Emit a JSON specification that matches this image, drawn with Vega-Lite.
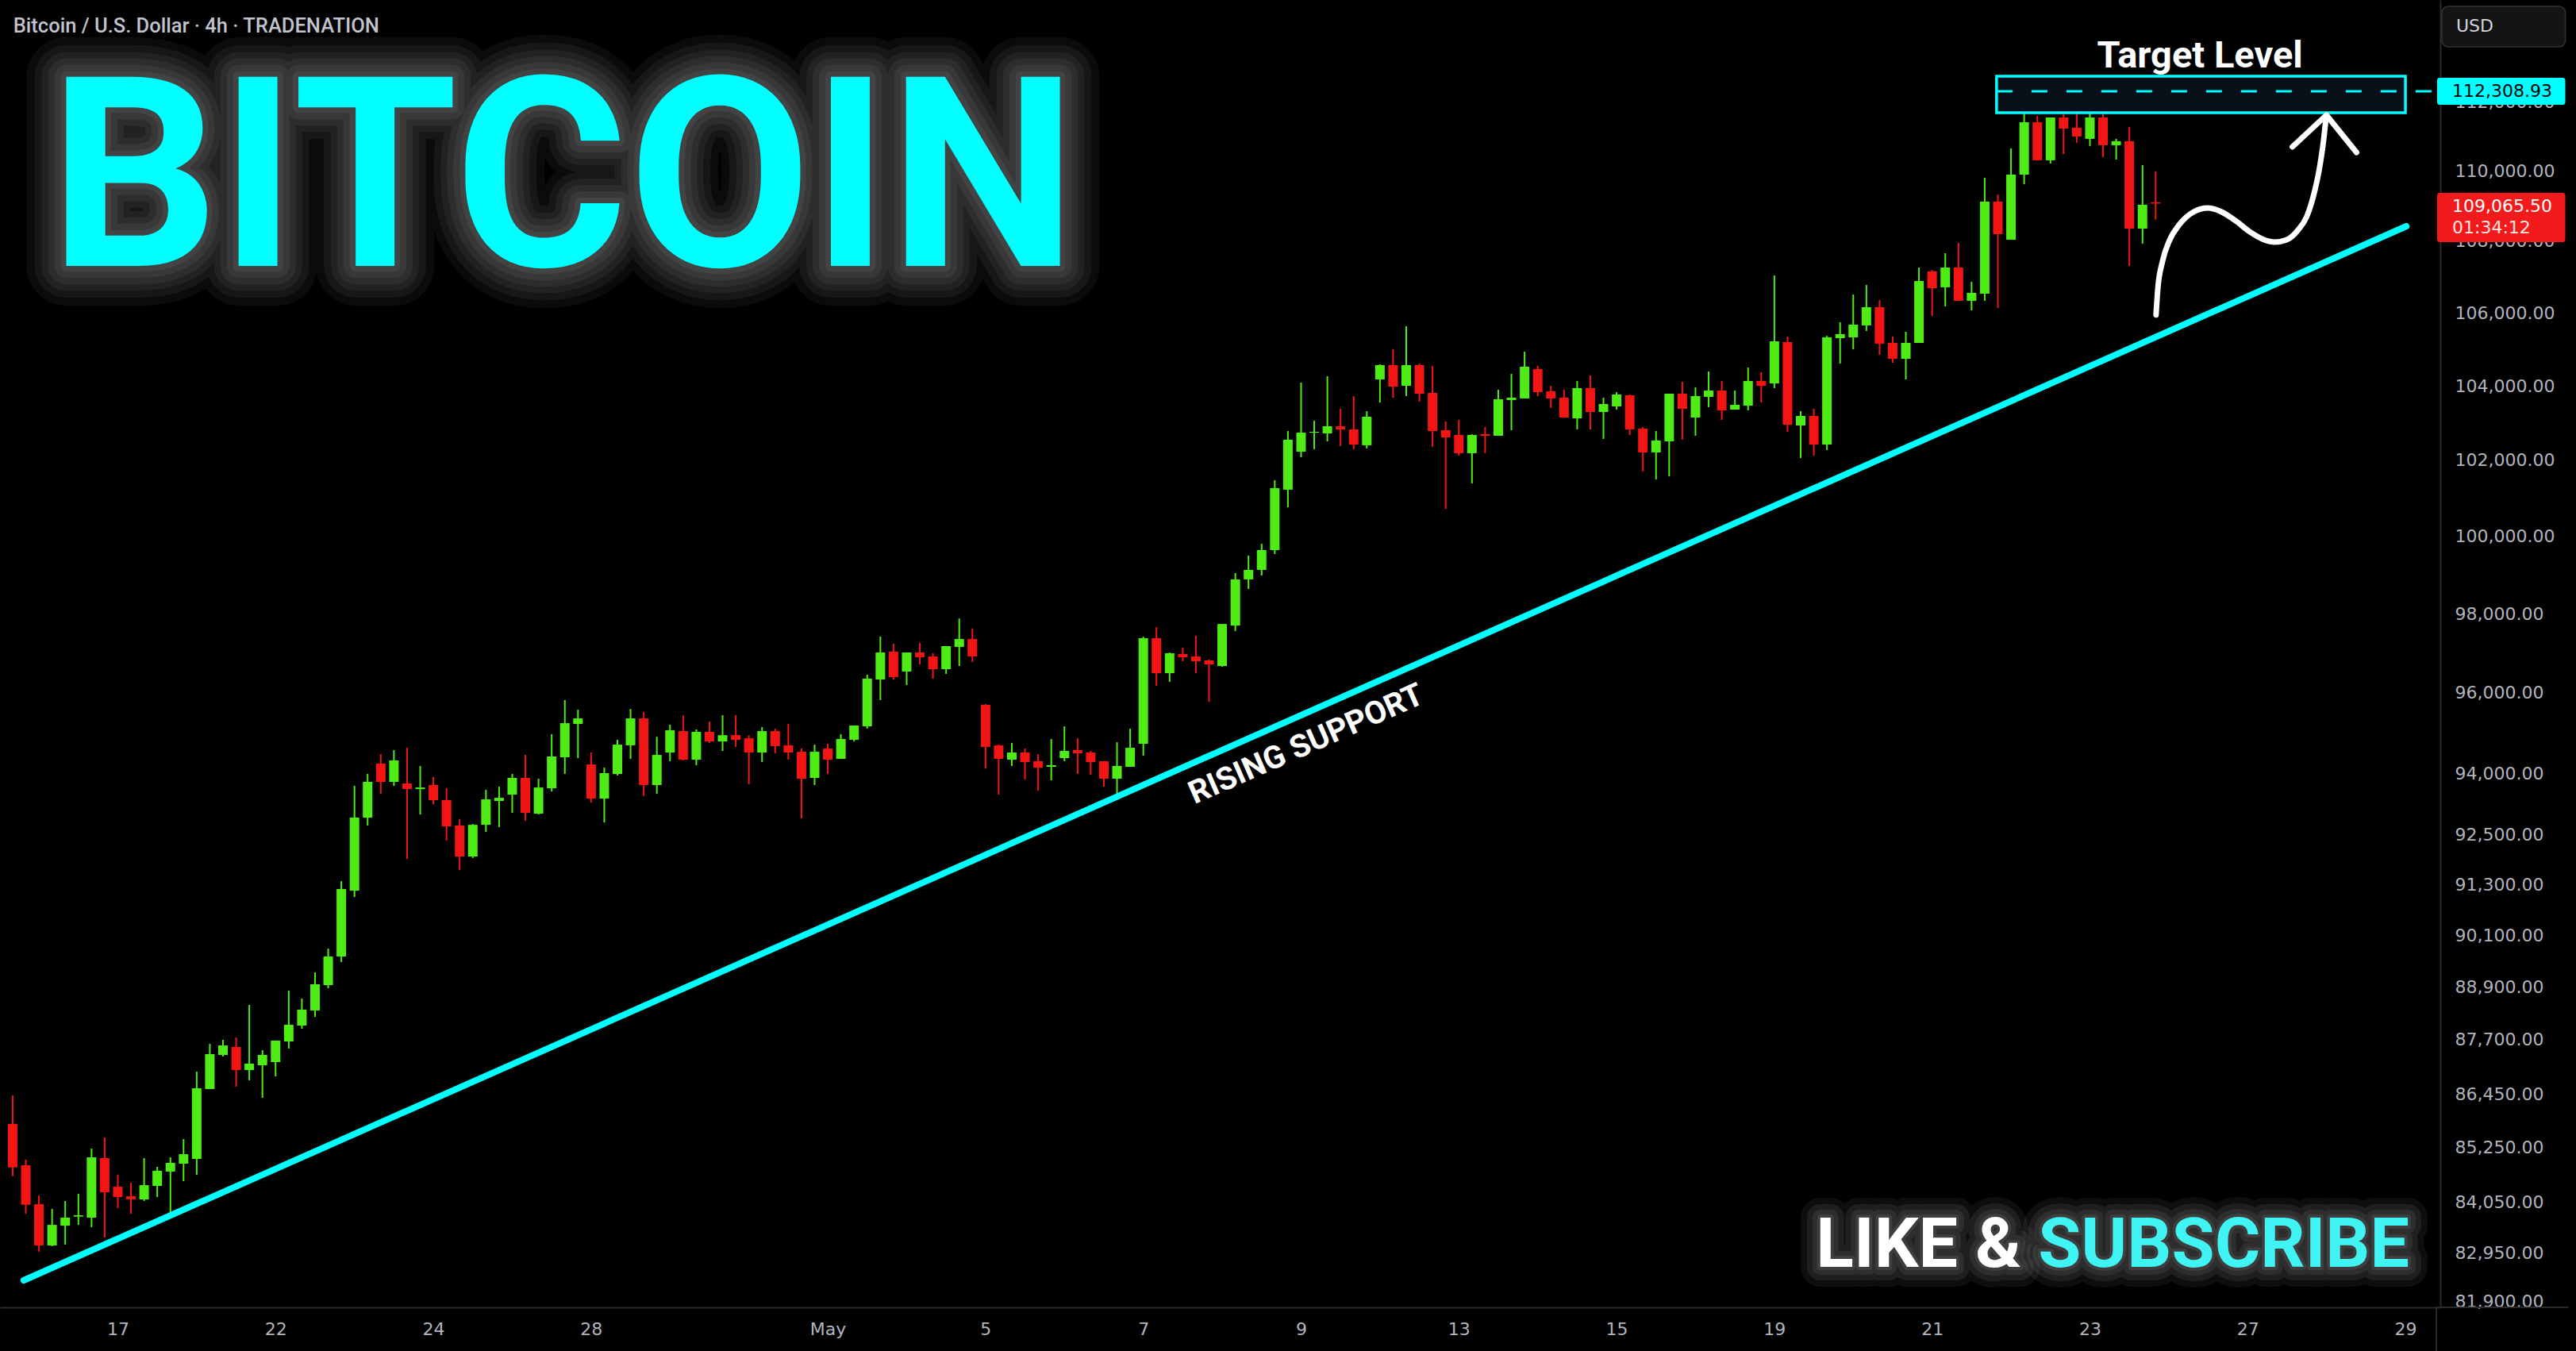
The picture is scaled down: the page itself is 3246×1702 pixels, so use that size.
{
  "$schema": "https://vega.github.io/schema/vega-lite/v6.json",
  "width": 3075,
  "height": 1647,
  "autosize": {"type": "none"},
  "padding": {"left": 0, "top": 0, "right": 171, "bottom": 55},
  "background": "#000000",
  "config": {"view": {"stroke": null}},
  "datasets": {
    "candles": [
      {"i":-8,"o":85781,"h":86423,"l":84622,"c":84815},
      {"i":-7,"o":84862,"h":84985,"l":83795,"c":83992},
      {"i":-6,"o":84004,"h":84196,"l":82972,"c":83104},
      {"i":-5,"o":83104,"h":83900,"l":83087,"c":83552},
      {"i":-4,"o":83535,"h":84074,"l":83121,"c":83709},
      {"i":-3,"o":83732,"h":84230,"l":83552,"c":83761},
      {"i":-2,"o":83709,"h":85232,"l":83500,"c":85037},
      {"i":-1,"o":85020,"h":85480,"l":83276,"c":84265},
      {"i":0,"o":84387,"h":84650,"l":83917,"c":84161},
      {"i":1,"o":84178,"h":84475,"l":83795,"c":84109},
      {"i":2,"o":84109,"h":85020,"l":84074,"c":84422},
      {"i":3,"o":84405,"h":84827,"l":84161,"c":84740},
      {"i":4,"o":84722,"h":85037,"l":83726,"c":84915},
      {"i":5,"o":84897,"h":85444,"l":84510,"c":85107},
      {"i":6,"o":85002,"h":86960,"l":84650,"c":86584},
      {"i":7,"o":86566,"h":87594,"l":86566,"c":87358},
      {"i":8,"o":87340,"h":87684,"l":87304,"c":87557},
      {"i":9,"o":87521,"h":87738,"l":86620,"c":86996},
      {"i":10,"o":86996,"h":88487,"l":86763,"c":87141},
      {"i":11,"o":87105,"h":87449,"l":86369,"c":87340},
      {"i":12,"o":87177,"h":87666,"l":86853,"c":87666},
      {"i":13,"o":87648,"h":88816,"l":87485,"c":88030},
      {"i":14,"o":88012,"h":88634,"l":87939,"c":88377},
      {"i":15,"o":88359,"h":89242,"l":88213,"c":88965},
      {"i":16,"o":88946,"h":89796,"l":88872,"c":89612},
      {"i":17,"o":89612,"h":91392,"l":89482,"c":91203},
      {"i":18,"o":91165,"h":93692,"l":91014,"c":92919},
      {"i":19,"o":92919,"h":93985,"l":92728,"c":93790},
      {"i":20,"o":94238,"h":94472,"l":93498,"c":93790},
      {"i":21,"o":93790,"h":94570,"l":93692,"c":94316},
      {"i":22,"o":93751,"h":94628,"l":91921,"c":93614},
      {"i":23,"o":93614,"h":94180,"l":92996,"c":93653},
      {"i":24,"o":93712,"h":93907,"l":93247,"c":93344},
      {"i":25,"o":93344,"h":93634,"l":92363,"c":92707},
      {"i":26,"o":92728,"h":92880,"l":91658,"c":91981},
      {"i":27,"o":91981,"h":92764,"l":91943,"c":92745},
      {"i":28,"o":92745,"h":93595,"l":92573,"c":93363},
      {"i":29,"o":93324,"h":93673,"l":92688,"c":93401},
      {"i":30,"o":93479,"h":93985,"l":93035,"c":93887},
      {"i":31,"o":93887,"h":94452,"l":92844,"c":93035},
      {"i":32,"o":93016,"h":93868,"l":92996,"c":93653},
      {"i":33,"o":93634,"h":94963,"l":93556,"c":94414},
      {"i":34,"o":94394,"h":95812,"l":93985,"c":95238},
      {"i":35,"o":95219,"h":95573,"l":94375,"c":95356},
      {"i":36,"o":94219,"h":94511,"l":93286,"c":93382},
      {"i":37,"o":93382,"h":94141,"l":92803,"c":94004},
      {"i":38,"o":93985,"h":94826,"l":93946,"c":94706},
      {"i":39,"o":94689,"h":95592,"l":94355,"c":95356},
      {"i":40,"o":95356,"h":95514,"l":93440,"c":93712},
      {"i":41,"o":93712,"h":94901,"l":93498,"c":94452},
      {"i":42,"o":94511,"h":95199,"l":94296,"c":95061},
      {"i":43,"o":95041,"h":95435,"l":94316,"c":94335},
      {"i":44,"o":94335,"h":95081,"l":94199,"c":95022},
      {"i":45,"o":95022,"h":95278,"l":94745,"c":94784},
      {"i":46,"o":94784,"h":95435,"l":94550,"c":94940},
      {"i":47,"o":94940,"h":95435,"l":94647,"c":94823},
      {"i":48,"o":94862,"h":94940,"l":93732,"c":94511},
      {"i":49,"o":94511,"h":95140,"l":94277,"c":95041},
      {"i":50,"o":95041,"h":95101,"l":94491,"c":94667},
      {"i":51,"o":94689,"h":95219,"l":94335,"c":94511},
      {"i":52,"o":94530,"h":94609,"l":92900,"c":93868},
      {"i":53,"o":93887,"h":94706,"l":93712,"c":94530},
      {"i":54,"o":94609,"h":94726,"l":93985,"c":94335},
      {"i":55,"o":94355,"h":94963,"l":94355,"c":94845},
      {"i":56,"o":94826,"h":95180,"l":94784,"c":95180},
      {"i":57,"o":95160,"h":96449,"l":95101,"c":96350},
      {"i":58,"o":96330,"h":97413,"l":95812,"c":97011},
      {"i":59,"o":97031,"h":97232,"l":96330,"c":96389},
      {"i":60,"o":96529,"h":97011,"l":96190,"c":97011},
      {"i":61,"o":97011,"h":97252,"l":96710,"c":96891},
      {"i":62,"o":96911,"h":96991,"l":96350,"c":96589},
      {"i":63,"o":96589,"h":97172,"l":96469,"c":97172},
      {"i":64,"o":97152,"h":97875,"l":96670,"c":97352},
      {"i":65,"o":97352,"h":97614,"l":96770,"c":96911},
      {"i":66,"o":95694,"h":95714,"l":94121,"c":94647},
      {"i":67,"o":94689,"h":94706,"l":93479,"c":94355},
      {"i":68,"o":94335,"h":94745,"l":94180,"c":94511},
      {"i":69,"o":94511,"h":94609,"l":93849,"c":94277},
      {"i":70,"o":94296,"h":94472,"l":93576,"c":94141},
      {"i":71,"o":94160,"h":94845,"l":93829,"c":94199},
      {"i":72,"o":94375,"h":95160,"l":94296,"c":94550},
      {"i":73,"o":94570,"h":94862,"l":93985,"c":94491},
      {"i":74,"o":94511,"h":94550,"l":93966,"c":94277},
      {"i":75,"o":94296,"h":94296,"l":93673,"c":93868},
      {"i":76,"o":93868,"h":94765,"l":93344,"c":94180},
      {"i":77,"o":94160,"h":95101,"l":94160,"c":94628},
      {"i":78,"o":94726,"h":97413,"l":94433,"c":97373},
      {"i":79,"o":97373,"h":97654,"l":96170,"c":96489},
      {"i":80,"o":96489,"h":97011,"l":96270,"c":96991},
      {"i":81,"o":96971,"h":97132,"l":96790,"c":96891},
      {"i":82,"o":96911,"h":97433,"l":96489,"c":96790},
      {"i":83,"o":96810,"h":96830,"l":95773,"c":96710},
      {"i":84,"o":96670,"h":97734,"l":96650,"c":97734},
      {"i":85,"o":97694,"h":99042,"l":97554,"c":98878},
      {"i":86,"o":98878,"h":99493,"l":98632,"c":99124},
      {"i":87,"o":99124,"h":99802,"l":98980,"c":99637},
      {"i":88,"o":99637,"h":101471,"l":99534,"c":101262},
      {"i":89,"o":101220,"h":102781,"l":100758,"c":102548},
      {"i":90,"o":102230,"h":104089,"l":102082,"c":102738},
      {"i":91,"o":102738,"h":103059,"l":102294,"c":102760},
      {"i":92,"o":102717,"h":104262,"l":102506,"c":102909},
      {"i":93,"o":102909,"h":103380,"l":102379,"c":102824},
      {"i":94,"o":102824,"h":103722,"l":102294,"c":102421},
      {"i":95,"o":102400,"h":103316,"l":102315,"c":103166},
      {"i":96,"o":104175,"h":104586,"l":103551,"c":104564},
      {"i":97,"o":104564,"h":104996,"l":103680,"c":103980},
      {"i":98,"o":104002,"h":105631,"l":103722,"c":104564},
      {"i":99,"o":104564,"h":104608,"l":103573,"c":103787},
      {"i":100,"o":103809,"h":104543,"l":102358,"c":102781},
      {"i":101,"o":102803,"h":103038,"l":100715,"c":102612},
      {"i":102,"o":102675,"h":103080,"l":102124,"c":102188},
      {"i":103,"o":102188,"h":102696,"l":101387,"c":102675},
      {"i":104,"o":102696,"h":102888,"l":102188,"c":102654},
      {"i":105,"o":102654,"h":103894,"l":102654,"c":103637},
      {"i":106,"o":103616,"h":104326,"l":102803,"c":103680},
      {"i":107,"o":103659,"h":104931,"l":103659,"c":104521},
      {"i":108,"o":104456,"h":104543,"l":103722,"c":103830},
      {"i":109,"o":103852,"h":104002,"l":103401,"c":103659},
      {"i":110,"o":103680,"h":103894,"l":103144,"c":103144},
      {"i":111,"o":103123,"h":104132,"l":102824,"c":103937},
      {"i":112,"o":103937,"h":104283,"l":102824,"c":103294},
      {"i":113,"o":103294,"h":103680,"l":102569,"c":103508},
      {"i":114,"o":103444,"h":103830,"l":103358,"c":103766},
      {"i":115,"o":103744,"h":103766,"l":102675,"c":102824},
      {"i":116,"o":102845,"h":102888,"l":101701,"c":102209},
      {"i":117,"o":102209,"h":102781,"l":101492,"c":102527},
      {"i":118,"o":102506,"h":103787,"l":101575,"c":103787},
      {"i":119,"o":103787,"h":104110,"l":102548,"c":103380},
      {"i":120,"o":103144,"h":103959,"l":102654,"c":103722},
      {"i":121,"o":103701,"h":104391,"l":103423,"c":103873},
      {"i":122,"o":103873,"h":104132,"l":103080,"c":103337},
      {"i":123,"o":103358,"h":103873,"l":103358,"c":103487},
      {"i":124,"o":103465,"h":104499,"l":103337,"c":104132},
      {"i":125,"o":104132,"h":104369,"l":103551,"c":104002},
      {"i":126,"o":104067,"h":107040,"l":103937,"c":105216},
      {"i":127,"o":105194,"h":105347,"l":102760,"c":102952},
      {"i":128,"o":102930,"h":103316,"l":102061,"c":103187},
      {"i":129,"o":103187,"h":103380,"l":102124,"c":102421},
      {"i":130,"o":102421,"h":105369,"l":102273,"c":105325},
      {"i":131,"o":105303,"h":105740,"l":104608,"c":105413},
      {"i":132,"o":105325,"h":106510,"l":104996,"c":105675},
      {"i":133,"o":105653,"h":106775,"l":105500,"c":106157},
      {"i":134,"o":106157,"h":106356,"l":104845,"c":105151},
      {"i":135,"o":105172,"h":105347,"l":104629,"c":104737},
      {"i":136,"o":104737,"h":105478,"l":104175,"c":105172},
      {"i":137,"o":105172,"h":107261,"l":105172,"c":106886},
      {"i":138,"o":107151,"h":107195,"l":105915,"c":106686},
      {"i":139,"o":106709,"h":107662,"l":106179,"c":107261},
      {"i":140,"o":107261,"h":107953,"l":106334,"c":106334},
      {"i":141,"o":106334,"h":106864,"l":106070,"c":106554},
      {"i":142,"o":106532,"h":109804,"l":106334,"c":109122},
      {"i":143,"o":109122,"h":109326,"l":106136,"c":108200},
      {"i":144,"o":108042,"h":110647,"l":108042,"c":109894},
      {"i":145,"o":109894,"h":111801,"l":109622,"c":111406},
      {"i":146,"o":111406,"h":111590,"l":110304,"c":110304},
      {"i":147,"o":110304,"h":111544,"l":110213,"c":111544},
      {"i":148,"o":111544,"h":111752,"l":110485,"c":111222},
      {"i":149,"o":111245,"h":111917,"l":110811,"c":110993},
      {"i":150,"o":110924,"h":111729,"l":110718,"c":111544},
      {"i":151,"o":111544,"h":111659,"l":110394,"c":110740},
      {"i":152,"o":110740,"h":110924,"l":110326,"c":110855},
      {"i":153,"o":110855,"h":111268,"l":107305,"c":108355},
      {"i":154,"o":108355,"h":110168,"l":107931,"c":109032},
      {"i":155,"o":109100,"h":109986,"l":108610,"c":109065.5}
    ],
    "support": [{"i":-7.16,"p":82351},{"i":174.07,"p":108423}],
    "curve": [
      {"i":155.03,"p":105944},{"i":155.17,"p":106686},{"i":155.51,"p":107417},{"i":156.05,"p":108020},
      {"i":156.8,"p":108469},{"i":157.88,"p":108829},{"i":158.97,"p":108941},{"i":160.02,"p":108829},
      {"i":161.07,"p":108581},{"i":162.15,"p":108267},{"i":163.24,"p":108042},{"i":164.08,"p":107975},
      {"i":164.98,"p":108042},{"i":165.82,"p":108312},{"i":166.49,"p":108693},{"i":167.0,"p":109280},
      {"i":167.45,"p":110052},{"i":167.75,"p":110807},{"i":167.97,"p":111567}
    ],
    "arrowhead": [{"i":165.4,"p":110693},{"i":167.99,"p":111613},{"i":170.28,"p":110532}]
  },
  "layer": [
    {"data":{"name":"candles"},"mark":{"type":"rule","strokeWidth":2},
     "encoding":{
       "x":{"field":"i","type":"quantitative","scale":{"domain":[-8.66,176.35],"nice":false,"zero":false},
            "axis":{"title":null,"values":[0,12,24,36,54,66,78,90,102,114,126,138,150,162,174],
                    "labelExpr":"datum.value == 0 ? '17' : datum.value == 12 ? '22' : datum.value == 24 ? '24' : datum.value == 36 ? '28' : datum.value == 54 ? 'May' : datum.value == 66 ? '5' : datum.value == 78 ? '7' : datum.value == 90 ? '9' : datum.value == 102 ? '13' : datum.value == 114 ? '15' : datum.value == 126 ? '19' : datum.value == 138 ? '21' : datum.value == 150 ? '23' : datum.value == 162 ? '27' : '29'",
                    "grid":false,"ticks":false,"tickSize":0,"domain":true,"domainColor":"#2a2a2a","domainWidth":2,
                    "labelColor":"#b2b5be","labelFont":"DejaVu Sans","labelFontSize":22,"labelPadding":17,"labelOverlap":false,"labelFlush":false}},
       "y":{"field":"l","type":"quantitative","scale":{"type":"log","domain":[81773,115016],"nice":false},
            "axis":{"title":null,"orient":"right","values":[81900,82950,84050,85250,86450,87700,88900,90100,91300,92500,94000,96000,98000,100000,102000,104000,106000,108000,110000,112000],
                    "format":",.2f","grid":false,"ticks":false,"tickSize":0,"domain":true,"domainColor":"#2a2a2a","domainWidth":2,
                    "labelColor":"#b2b5be","labelFont":"DejaVu Sans","labelFontSize":22,"labelPadding":18,"labelAlign":"left","labelBaseline":"middle","labelOverlap":false,"labelFlush":false}},
       "y2":{"field":"h"},
       "color":{"condition":{"test":"datum.c >= datum.o","value":"#4EEB14"},"value":"#F31414"}}},
    {"data":{"name":"candles"},"mark":{"type":"bar","size":12},
     "encoding":{
       "x":{"field":"i","type":"quantitative"},
       "y":{"field":"o","type":"quantitative"},
       "y2":{"field":"c"},
       "color":{"condition":{"test":"datum.c >= datum.o","value":"#4EEB14"},"value":"#F31414"}}},

    {"data":{"values":[{}]},"mark":{"type":"text","text":"BITCOIN","font":"Roboto","fontWeight":"bold","fontSize":335,"align":"center","baseline":"alphabetic","fill":"#b4b4b4","stroke":"#b4b4b4","strokeWidth":100,"strokeJoin":"round","opacity":0.06},
     "encoding":{"x":{"datum":33.87,"type":"quantitative"},"y":{"datum":107306,"type":"quantitative"}}},
    {"data":{"values":[{}]},"mark":{"type":"text","text":"BITCOIN","font":"Roboto","fontWeight":"bold","fontSize":335,"align":"center","baseline":"alphabetic","fill":"#b4b4b4","stroke":"#b4b4b4","strokeWidth":80,"strokeJoin":"round","opacity":0.07},
     "encoding":{"x":{"datum":33.87,"type":"quantitative"},"y":{"datum":107306,"type":"quantitative"}}},
    {"data":{"values":[{}]},"mark":{"type":"text","text":"BITCOIN","font":"Roboto","fontWeight":"bold","fontSize":335,"align":"center","baseline":"alphabetic","fill":"#b4b4b4","stroke":"#b4b4b4","strokeWidth":62,"strokeJoin":"round","opacity":0.07},
     "encoding":{"x":{"datum":33.87,"type":"quantitative"},"y":{"datum":107306,"type":"quantitative"}}},
    {"data":{"values":[{}]},"mark":{"type":"text","text":"BITCOIN","font":"Roboto","fontWeight":"bold","fontSize":335,"align":"center","baseline":"alphabetic","fill":"#b4b4b4","stroke":"#b4b4b4","strokeWidth":46,"strokeJoin":"round","opacity":0.08},
     "encoding":{"x":{"datum":33.87,"type":"quantitative"},"y":{"datum":107306,"type":"quantitative"}}},
    {"data":{"values":[{}]},"mark":{"type":"text","text":"BITCOIN","font":"Roboto","fontWeight":"bold","fontSize":335,"align":"center","baseline":"alphabetic","fill":"#b4b4b4","stroke":"#b4b4b4","strokeWidth":30,"strokeJoin":"round","opacity":0.08},
     "encoding":{"x":{"datum":33.87,"type":"quantitative"},"y":{"datum":107306,"type":"quantitative"}}},
    {"data":{"values":[{}]},"mark":{"type":"text","text":"BITCOIN","font":"Roboto","fontWeight":"bold","fontSize":335,"align":"center","baseline":"alphabetic","fill":"#b4b4b4","stroke":"#b4b4b4","strokeWidth":14,"strokeJoin":"round","opacity":0.09},
     "encoding":{"x":{"datum":33.87,"type":"quantitative"},"y":{"datum":107306,"type":"quantitative"}}},
    {"data":{"values":[{}]},"mark":{"type":"text","text":"BITCOIN","font":"Roboto","fontWeight":"bold","fontSize":335,"align":"center","baseline":"alphabetic","fill":"#00FFFF"},
     "encoding":{"x":{"datum":33.87,"type":"quantitative"},"y":{"datum":107306,"type":"quantitative"}}},

    {"data":{"values":[{}]},"mark":{"type":"text","text":"LIKE &","font":"Roboto","fontWeight":"bold","fontSize":88,"align":"right","baseline":"alphabetic","fill":"#b4b4b4","stroke":"#b4b4b4","strokeWidth":50,"strokeJoin":"round","opacity":0.08},
     "encoding":{"x":{"datum":144.77,"type":"quantitative"},"y":{"datum":82641,"type":"quantitative"}}},
    {"data":{"values":[{}]},"mark":{"type":"text","text":"LIKE &","font":"Roboto","fontWeight":"bold","fontSize":88,"align":"right","baseline":"alphabetic","fill":"#b4b4b4","stroke":"#b4b4b4","strokeWidth":34,"strokeJoin":"round","opacity":0.1},
     "encoding":{"x":{"datum":144.77,"type":"quantitative"},"y":{"datum":82641,"type":"quantitative"}}},
    {"data":{"values":[{}]},"mark":{"type":"text","text":"LIKE &","font":"Roboto","fontWeight":"bold","fontSize":88,"align":"right","baseline":"alphabetic","fill":"#b4b4b4","stroke":"#b4b4b4","strokeWidth":20,"strokeJoin":"round","opacity":0.1},
     "encoding":{"x":{"datum":144.77,"type":"quantitative"},"y":{"datum":82641,"type":"quantitative"}}},
    {"data":{"values":[{}]},"mark":{"type":"text","text":"LIKE &","font":"Roboto","fontWeight":"bold","fontSize":88,"align":"right","baseline":"alphabetic","fill":"#b4b4b4","stroke":"#b4b4b4","strokeWidth":8,"strokeJoin":"round","opacity":0.12},
     "encoding":{"x":{"datum":144.77,"type":"quantitative"},"y":{"datum":82641,"type":"quantitative"}}},
    {"data":{"values":[{}]},"mark":{"type":"text","text":"SUBSCRIBE","font":"Roboto","fontWeight":"bold","fontSize":88,"align":"right","baseline":"alphabetic","fill":"#b4b4b4","stroke":"#b4b4b4","strokeWidth":50,"strokeJoin":"round","opacity":0.08},
     "encoding":{"x":{"datum":174.3,"type":"quantitative"},"y":{"datum":82641,"type":"quantitative"}}},
    {"data":{"values":[{}]},"mark":{"type":"text","text":"SUBSCRIBE","font":"Roboto","fontWeight":"bold","fontSize":88,"align":"right","baseline":"alphabetic","fill":"#b4b4b4","stroke":"#b4b4b4","strokeWidth":34,"strokeJoin":"round","opacity":0.1},
     "encoding":{"x":{"datum":174.3,"type":"quantitative"},"y":{"datum":82641,"type":"quantitative"}}},
    {"data":{"values":[{}]},"mark":{"type":"text","text":"SUBSCRIBE","font":"Roboto","fontWeight":"bold","fontSize":88,"align":"right","baseline":"alphabetic","fill":"#b4b4b4","stroke":"#b4b4b4","strokeWidth":20,"strokeJoin":"round","opacity":0.1},
     "encoding":{"x":{"datum":174.3,"type":"quantitative"},"y":{"datum":82641,"type":"quantitative"}}},
    {"data":{"values":[{}]},"mark":{"type":"text","text":"SUBSCRIBE","font":"Roboto","fontWeight":"bold","fontSize":88,"align":"right","baseline":"alphabetic","fill":"#b4b4b4","stroke":"#b4b4b4","strokeWidth":8,"strokeJoin":"round","opacity":0.12},
     "encoding":{"x":{"datum":174.3,"type":"quantitative"},"y":{"datum":82641,"type":"quantitative"}}},
    {"data":{"values":[{}]},"mark":{"type":"text","text":"LIKE &","font":"Roboto","fontWeight":"bold","fontSize":88,"align":"right","baseline":"alphabetic","fill":"#FFFFFF"},
     "encoding":{"x":{"datum":144.77,"type":"quantitative"},"y":{"datum":82641,"type":"quantitative"}}},
    {"data":{"values":[{}]},"mark":{"type":"text","text":"SUBSCRIBE","font":"Roboto","fontWeight":"bold","fontSize":88,"align":"right","baseline":"alphabetic","fill":"#40F4F4"},
     "encoding":{"x":{"datum":174.3,"type":"quantitative"},"y":{"datum":82641,"type":"quantitative"}}},

    {"data":{"values":[{}]},"mark":{"type":"text","text":"Bitcoin / U.S. Dollar · 4h · TRADENATION","font":"Roboto","fontWeight":500,"fontSize":25.5,"align":"left","baseline":"alphabetic","fill":"#c2c4cc"},
     "encoding":{"x":{"datum":-7.95,"type":"quantitative"},"y":{"datum":114044,"type":"quantitative"}}},

    {"data":{"name":"support"},"mark":{"type":"line","color":"#00FFFF","strokeWidth":8,"strokeCap":"round"},
     "encoding":{"x":{"field":"i","type":"quantitative"},"y":{"field":"p","type":"quantitative"}}},

    {"data":{"values":[{}]},"mark":{"type":"rect","fill":"#0a101a","stroke":"#00FFFF","strokeWidth":3.5},
     "encoding":{"x":{"datum":142.9,"type":"quantitative"},"x2":{"datum":174.0},"y":{"datum":112752,"type":"quantitative"},"y2":{"datum":111682}}},
    {"data":{"values":[{}]},"mark":{"type":"rule","stroke":"#00FFFF","strokeWidth":3,"strokeDash":[20,24]},
     "encoding":{"x":{"datum":142.9,"type":"quantitative"},"x2":{"datum":176.35},"y":{"datum":112308.93,"type":"quantitative"}}},
    {"data":{"values":[{}]},"mark":{"type":"text","text":"Target Level","font":"Roboto","fontWeight":"bold","fontSize":47,"align":"center","baseline":"alphabetic","fill":"#FFFFFF"},
     "encoding":{"x":{"datum":158.37,"type":"quantitative"},"y":{"datum":113009,"type":"quantitative"}}},
    {"data":{"values":[{}]},"mark":{"type":"text","text":"RISING SUPPORT","font":"Roboto","fontWeight":"bold","fontSize":40,"align":"center","baseline":"middle","angle":-23.8,"fill":"#FFFFFF"},
     "encoding":{"x":{"datum":90.4,"type":"quantitative"},"y":{"datum":94707,"type":"quantitative"}}},
    {"data":{"name":"curve"},"mark":{"type":"line","color":"#FFFFFF","strokeWidth":7,"strokeCap":"round","strokeJoin":"round","interpolate":"monotone"},
     "encoding":{"x":{"field":"i","type":"quantitative"},"y":{"field":"p","type":"quantitative"}}},
    {"data":{"name":"arrowhead"},"mark":{"type":"line","color":"#FFFFFF","strokeWidth":7,"strokeCap":"round","strokeJoin":"round"},
     "encoding":{"x":{"field":"i","type":"quantitative"},"y":{"field":"p","type":"quantitative"}}},

    {"data":{"values":[{}]},"mark":{"type":"rule","stroke":"#2a2a2a","strokeWidth":2},
     "encoding":{"x":{"datum":176.35,"type":"quantitative"},"x2":{"datum":186.4},"y":{"datum":81773,"type":"quantitative"}}},
    {"data":{"values":[{}]},"mark":{"type":"rule","stroke":"#2a2a2a","strokeWidth":2},
     "encoding":{"x":{"datum":176.35,"type":"quantitative"},"y":{"datum":81773,"type":"quantitative"},"y2":{"datum":80800}}},

    {"data":{"values":[{}]},"mark":{"type":"rect","fill":"#141414","stroke":"#333333","strokeWidth":1.5,"cornerRadius":8},
     "encoding":{"x":{"datum":176.77,"type":"quantitative"},"x2":{"datum":186.16},"y":{"datum":114826,"type":"quantitative"},"y2":{"datum":113619}}},
    {"data":{"values":[{}]},"mark":{"type":"text","text":"USD","font":"DejaVu Sans","fontSize":22,"align":"left","baseline":"middle","fill":"#d1d4dc"},
     "encoding":{"x":{"datum":177.86,"type":"quantitative"},"y":{"datum":114233,"type":"quantitative"}}},
    {"data":{"values":[{}]},"mark":{"type":"rect","fill":"#00FFFF","cornerRadius":3},
     "encoding":{"x":{"datum":176.41,"type":"quantitative"},"x2":{"datum":186.16},"y":{"datum":112705,"type":"quantitative"},"y2":{"datum":111914}}},
    {"data":{"values":[{}]},"mark":{"type":"text","text":"112,308.93","font":"DejaVu Sans","fontSize":22,"align":"left","baseline":"middle","fill":"#000000"},
     "encoding":{"x":{"datum":177.56,"type":"quantitative"},"y":{"datum":112308.93,"type":"quantitative"}}},
    {"data":{"values":[{}]},"mark":{"type":"rect","fill":"#F21A1A","cornerRadius":3},
     "encoding":{"x":{"datum":176.41,"type":"quantitative"},"x2":{"datum":186.16},"y":{"datum":109371,"type":"quantitative"},"y2":{"datum":107975}}},
    {"data":{"values":[{}]},"mark":{"type":"text","text":"109,065.50","font":"DejaVu Sans","fontSize":22,"align":"left","baseline":"middle","fill":"#FFFFFF"},
     "encoding":{"x":{"datum":177.56,"type":"quantitative"},"y":{"datum":108986,"type":"quantitative"}}},
    {"data":{"values":[{}]},"mark":{"type":"text","text":"01:34:12","font":"DejaVu Sans","fontSize":22,"align":"left","baseline":"middle","fill":"#ffe4e4"},
     "encoding":{"x":{"datum":177.56,"type":"quantitative"},"y":{"datum":108378,"type":"quantitative"}}}
  ]
}
